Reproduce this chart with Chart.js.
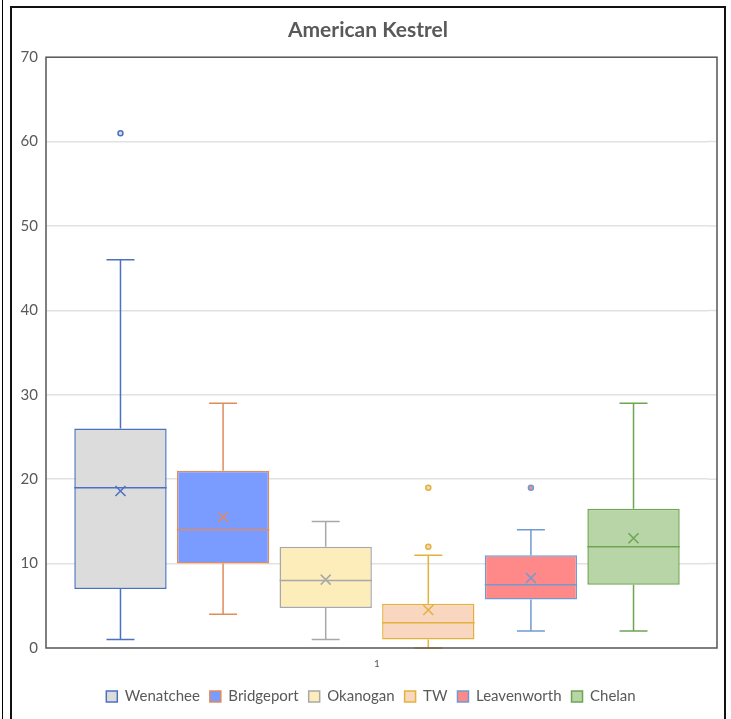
<!DOCTYPE html>
<html>
<head>
<meta charset="utf-8">
<script src="https://cdn.jsdelivr.net/npm/chart.js@4"></script>
<style>
  html, body { margin: 0; padding: 0; background: #fff; }
  body { width: 731px; height: 719px; position: relative; overflow: hidden; }
  #page-line { position: absolute; left: 2px; top: 0; width: 1px; height: 719px; background: #000; }
  #frame { position: absolute; left: 10px; top: 6px; width: 712px; height: 720px;
           border: 2px solid #111; border-bottom: none; background: #fff; }
  #wrap { position: absolute; left: 2px; top: 2px; width: 710px; height: 710px; }
</style>
</head>
<body>
<div id="page-line"></div>
<div id="frame">
  <div id="wrap"><canvas id="boxChart"></canvas></div>
</div>
<script>
// datos de cada caja
const regions = ['Wenatchee', 'Bridgeport', 'Okanogan', 'TW', 'Leavenworth', 'Chelan'];
const mins = [1, 4, 1, 0, 2, 2];
const q1s = [7, 10, 4.75, 1, 5.75, 7.5];
const medians = [19, 14, 8, 3, 7.5, 12];
const q3s = [26, 21, 12, 5.25, 11, 16.5];
const maxs = [46, 29, 15, 11, 14, 29];
const means = [18.6, 15.5, 8.1, 4.5, 8.3, 13];
const outliers = [[61], [], [], [12, 19], [19], []];
const categories = ['1'];
const yTicks = [0, 10, 20, 30, 40, 50, 60, 70];

const fillColors = ['#dcdcdc', '#7a9bff', '#fdedbb', '#f9d6c0', '#ff8888', '#b7d5a6'];
const lineColors = ['#4a72c0', '#df8c5e', '#a8a8a8', '#e2b23a', '#6f9bd0', '#6ea551'];

const EXTRA_RIGHT = 9; // el marco llega más a la derecha que el área de categorías

// bigotes, mediana, media y atípicos
const boxExtras = {
  id: 'boxExtras',
  afterDatasetsDraw(chart) {
    const ctx = chart.ctx;
    const y = chart.scales.y;
    chart.data.datasets.forEach((ds, i) => {
      const bar = chart.getDatasetMeta(i).data[0];
      if (!bar) return;
      const cx = bar.x;
      const half = bar.width / 2;
      const cap = 14;
      const col = lineColors[i];
      ctx.save();
      ctx.strokeStyle = col;
      ctx.lineWidth = 1.5;
      ctx.beginPath();
      // bigote superior
      ctx.moveTo(cx, y.getPixelForValue(q3s[i]));
      ctx.lineTo(cx, y.getPixelForValue(maxs[i]));
      ctx.moveTo(cx - cap, y.getPixelForValue(maxs[i]));
      ctx.lineTo(cx + cap, y.getPixelForValue(maxs[i]));
      // bigote inferior
      ctx.moveTo(cx, y.getPixelForValue(q1s[i]));
      ctx.lineTo(cx, y.getPixelForValue(mins[i]));
      ctx.moveTo(cx - cap, y.getPixelForValue(mins[i]));
      ctx.lineTo(cx + cap, y.getPixelForValue(mins[i]));
      // mediana
      ctx.moveTo(cx - half, y.getPixelForValue(medians[i]));
      ctx.lineTo(cx + half, y.getPixelForValue(medians[i]));
      ctx.stroke();
      // media (x)
      const my = y.getPixelForValue(means[i]);
      const s = 5;
      ctx.beginPath();
      ctx.moveTo(cx - s, my - s); ctx.lineTo(cx + s, my + s);
      ctx.moveTo(cx - s, my + s); ctx.lineTo(cx + s, my - s);
      ctx.stroke();
      // atípicos
      outliers[i].forEach(v => {
        ctx.beginPath();
        ctx.arc(cx, y.getPixelForValue(v), 2.5, 0, Math.PI * 2);
        ctx.fillStyle = fillColors[i];
        ctx.fill();
        ctx.stroke();
      });
      ctx.restore();
    });
  }
};

// marco del área de trazado + ajuste de título y leyenda
const plotBorder = {
  id: 'plotBorder',
  afterLayout(chart) {
    if (chart.legend) {
      chart.legend.left += 10;
      chart.legend.right += 10;
    }
    if (chart.titleBlock) {
      chart.titleBlock.left += 7;
      chart.titleBlock.right += 7;
    }
  },
  beforeDatasetsDraw(chart) {
    // prolongar las líneas de cuadrícula hasta el marco
    const { ctx, chartArea: a, scales: { y } } = chart;
    ctx.save();
    ctx.strokeStyle = '#e2e2e2';
    ctx.lineWidth = 1.5;
    ctx.beginPath();
    yTicks.slice(1, -1).forEach(v => {
      const py = y.getPixelForValue(v);
      ctx.moveTo(a.right, py);
      ctx.lineTo(a.right + EXTRA_RIGHT, py);
    });
    ctx.stroke();
    ctx.restore();
  },
  afterDraw(chart) {
    const { ctx, chartArea: a } = chart;
    ctx.save();
    ctx.strokeStyle = '#555';
    ctx.lineWidth = 1.5;
    ctx.strokeRect(a.left, a.top, a.right + EXTRA_RIGHT - a.left, a.bottom - a.top);
    ctx.restore();
  }
};

const ctx = document.getElementById('boxChart').getContext('2d');
new Chart(ctx, {
  type: 'bar',
  data: {
    labels: categories,
    datasets: regions.map((name, i) => ({
      label: name,
      data: [[q1s[i], q3s[i]]],
      backgroundColor: fillColors[i],
      borderColor: lineColors[i],
      borderWidth: 1.5,
      borderSkipped: false,
      barPercentage: 0.9,
      categoryPercentage: 0.93
    }))
  },
  options: {
    responsive: true,
    maintainAspectRatio: false,
    animation: false,
    layout: { padding: { left: 0, right: 16, top: 0, bottom: 6 } },
    plugins: {
      title: {
        display: true,
        text: 'American Kestrel',
        color: '#595959',
        font: { family: 'Lato', size: 21, weight: 'bold' },
        padding: { top: 8, bottom: 14 }
      },
      legend: {
        position: 'bottom',
        labels: {
          color: '#595959',
          font: { family: 'Lato', size: 15 },
          boxWidth: 11,
          boxHeight: 11,
          padding: 10
        }
      },
      tooltip: { enabled: false }
    },
    scales: {
      x: {
        grid: { display: false },
        border: { display: false },
        ticks: { color: '#595959', font: { family: 'Lato', size: 10 }, padding: 2 },
        afterFit: (s) => { s.height = 31; }
      },
      y: {
        min: 0,
        max: 70,
        afterBuildTicks: (s) => { s.ticks = yTicks.map(v => ({ value: v })); },
        grid: { color: (c) => (c.tick.value === 0 || c.tick.value === 70) ? 'rgba(0,0,0,0)' : '#e2e2e2', lineWidth: 1.5, drawTicks: false },
        border: { display: false },
        ticks: { color: '#595959', font: { family: 'Lato', size: 15 }, padding: 8 },
        afterFit: (s) => { s.width = 32; }
      }
    }
  },
  plugins: [boxExtras, plotBorder]
});
</script>
</body>
</html>
